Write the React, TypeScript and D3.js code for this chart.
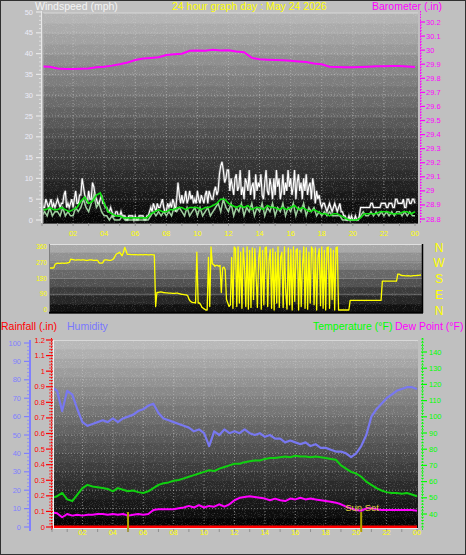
import React from "react";
import * as d3 from "d3";

const FONT = "'Liberation Sans', Arial, sans-serif";

// ---------- labels / ticks ----------
const hourTickValues = [2, 4, 6, 8, 10, 12, 14, 16, 18, 20, 22, 24];
const hourTickLabels = ["02", "04", "06", "08", "10", "12", "14", "16", "18", "20", "22", "00"];
const windTicks = [0, 5, 10, 15, 20, 25, 30, 35, 40, 45, 50];
const baroTicks = [28.8, 28.9, 29.0, 29.1, 29.2, 29.3, 29.4, 29.5, 29.6, 29.7, 29.8, 29.9, 30.0, 30.1, 30.2];
const baroLabels = ["28.8", "28.9", "29", "29.1", "29.2", "29.3", "29.4", "29.5", "29.6", "29.7", "29.8", "29.9", "30", "30.1", "30.2"];
const dirTicks = [0, 90, 180, 270, 360];
const compass = ["N", "E", "S", "W", "N"];
const humTicks = [0, 10, 20, 30, 40, 50, 60, 70, 80, 90, 100];
const rainTicks = [0, 0.1, 0.2, 0.3, 0.4, 0.5, 0.6, 0.7, 0.8, 0.9, 1.0, 1.1, 1.2];
const rainLabels = ["0", "0.1", "0.2", "0.3", "0.4", "0.5", "0.6", "0.7", "0.8", "0.9", "1", "1.1", "1.2"];
const tempTicks = [40, 50, 60, 70, 80, 90, 100, 110, 120, 130, 140];
const sunEvents = [5.0, 20.33];

// ---------- series ----------
// barometer, every 30 min
const barometer = [
  29.885, 29.882, 29.87, 29.866, 29.866, 29.868, 29.87, 29.878, 29.882, 29.89,
  29.9, 29.912, 29.93, 29.94, 29.945, 29.95, 29.965, 29.97, 29.975, 29.995,
  29.998, 29.995, 30.003, 29.998, 30.0, 29.99, 29.985, 29.945, 29.935, 29.932,
  29.93, 29.928, 29.925, 29.92, 29.915, 29.905, 29.9, 29.882, 29.88, 29.878,
  29.878, 29.88, 29.882, 29.885, 29.886, 29.888, 29.887, 29.884, 29.88,
];
// wind gust, every 5 min
const windGust = [
  4, 3, 3, 5, 4, 3, 4, 5, 3, 4, 3, 4,
  5, 4, 3, 4, 4, 6, 7, 3, 4, 3, 4, 5,
  3, 5, 7, 4, 4, 6, 6, 10, 8, 6, 5, 4,
  7, 5, 5, 9, 8, 6, 5, 4, 4, 5, 6, 4,
  4, 3, 3, 2, 2, 3, 2, 1, 1, 2, 2, 1,
  1, 2, 1, 1, 1, 0, 0, 1, 1, 1, 1, 0,
  1, 0, 0, 1, 1, 1, 1, 0, 0, 1, 1, 2,
  3, 2, 4, 3, 2, 4, 3, 3, 4, 5, 3, 2,
  2, 4, 3, 4, 3, 5, 4, 2, 5, 9, 6, 4,
  6, 4, 5, 7, 4, 5, 7, 5, 6, 4, 5, 4,
  7, 5, 4, 6, 5, 4, 6, 7, 4, 7, 6, 5,
  5, 7, 8, 6, 7, 11, 13, 14, 12, 9, 10, 12,
  12, 7, 10, 8, 6, 10, 11, 7, 8, 12, 6, 8,
  5, 10, 9, 7, 12, 6, 8, 9, 5, 11, 7, 9,
  8, 11, 6, 5, 9, 12, 7, 6, 10, 8, 5, 10,
  6, 12, 8, 10, 5, 7, 11, 6, 9, 7, 12, 8,
  10, 6, 8, 12, 5, 9, 11, 7, 9, 5, 10, 7,
  11, 6, 8, 9, 5, 10, 8, 4, 7, 5, 6, 4,
  3, 4, 4, 3, 2, 3, 4, 3, 2, 3, 4, 3,
  2, 3, 4, 2, 2, 1, 1, 0, 0, 1, 0, 1,
  0, 0, 1, 0, 0, 1, 3, 3, 3, 3, 3, 3,
  3, 3, 4, 4, 3, 3, 3, 3, 3, 3, 4, 4,
  4, 4, 3, 3, 4, 4, 4, 3, 3, 5, 5, 4,
  4, 4, 4, 5, 3, 3, 5, 5, 4, 4, 5, 5,
  4,
];
// wind speed (pale), every 10 min
const windSpeed = [
  1, 2, 1, 3, 1, 2,
  2, 1, 3, 1, 2, 1,
  1, 3, 2, 3, 5, 3,
  2, 4, 6, 3, 4, 2,
  1, 1, 0, 1, 0, 0,
  0, 1, 0, 0, 0, 0,
  0, 0, 0, 0, 0, 0,
  1, 2, 1, 2, 1, 2,
  1, 2, 1, 3, 2, 3,
  2, 1, 3, 1, 2, 3,
  1, 3, 1, 2, 3, 1,
  2, 3, 4, 2, 5, 3,
  2, 4, 1, 3, 2, 4,
  1, 3, 2, 4, 1, 3,
  2, 4, 1, 3, 2, 4,
  1, 3, 2, 4, 1, 3,
  2, 4, 1, 3, 2, 4,
  1, 3, 2, 3, 1, 2,
  1, 2, 1, 2, 1, 1,
  1, 1, 0, 0, 0, 0,
  0, 0, 0, 1, 2, 1,
  1, 2, 1, 2, 1, 2,
  1, 2, 1, 2, 1, 2,
  2, 1, 2, 1, 2, 1,
  1,
];
// wind average, every 15 min
const windAvg = [
  2.5, 2.5, 3, 2.5,
  2.5, 3, 2.5, 2,
  2.5, 3, 4.5, 5.5,
  4, 4.5, 6, 6.5,
  4, 2, 1.5, 1,
  1, 0.5, 0.5, 0.5,
  0.5, 0.5, 0.5, 0.5,
  1.5, 2, 2.5, 2,
  2, 2.5, 2.5, 3,
  3, 2.5, 3, 3,
  3, 2.5, 3, 3,
  3.5, 4, 5, 5,
  4, 3.5, 3, 3.5,
  3, 3.5, 2.5, 3,
  3, 2.5, 3.5, 3,
  3, 2.5, 3, 2.5,
  3, 3.5, 2.5, 3,
  2.5, 2, 2.5, 2,
  1.5, 1.5, 1, 1.5,
  1.5, 1, 0.5, 0,
  0, 0, 0.5, 1.5,
  1.5, 1.5, 1.5, 2,
  2, 2, 1.5, 1.5,
  1.5, 2, 2, 1.5,
  2,
];
// wind direction, every 5 min
const windDir = [
  240, 240, 240, 241, 262, 265, 268, 267, 266, 268, 268, 267,
  268, 268, 270, 272, 290, 289, 288, 286, 285, 286, 287, 286,
  285, 286, 286, 285, 284, 283, 285, 286, 287, 285, 283, 284,
  285, 284, 270, 268, 268, 270, 285, 286, 286, 285, 283, 284,
  286, 290, 300, 315, 322, 325, 330, 320, 310, 330, 358, 340,
  318, 318, 318, 317, 316, 316, 316, 316, 315, 315, 316, 316,
  315, 316, 316, 316, 315, 315, 316, 316, 315, 315, 20, 100,
  100, 102, 103, 102, 100, 99, 98, 98, 97, 97, 96, 95,
  95, 95, 96, 96, 94, 92, 90, 89, 88, 87, 86, 80,
  60, 50, 45, 42, 42, 40, 330, 40, 40, 30, 15, 10,
  5, 0, 0, 300, 20, 360, 265, 260, 250, 255, 255, 250,
  255, 100, 240, 245, 230, 60, 40, 20, 30, 300, 10, 360,
  350, 20, 360, 40, 330, 10, 355, 250, 20, 360, 5, 340,
  15, 355, 60, 350, 200, 15, 300, 360, 5, 340, 30, 355,
  360, 20, 280, 345, 10, 350, 0, 330, 40, 360, 15, 300,
  330, 15, 360, 100, 5, 355, 30, 345, 0, 360, 50, 340,
  350, 0, 340, 20, 260, 360, 10, 355, 5, 330, 40, 360,
  345, 30, 355, 0, 300, 350, 25, 360, 10, 340, 0, 355,
  360, 10, 350, 60, 340, 0, 355, 360, 0, 0, 0, 0,
  0, 0, 0, 0, 0, 55, 55, 55, 55, 55, 55, 55,
  55, 55, 55, 55, 55, 55, 55, 55, 55, 55, 55, 55,
  55, 55, 55, 55, 55, 55, 165, 165, 165, 165, 165, 165,
  165, 165, 165, 165, 165, 165, 205, 205, 200, 198, 196, 196,
  195, 195, 196, 195, 194, 195, 196, 197, 197, 198, 198, 199,
  200,
];
// humidity, every 20 min
const humidity = [
  76, 74, 63, 74, 72, 64, 57, 55, 56, 57, 58, 57, 59, 57, 59, 60, 61, 63,
  64, 66, 67, 62, 59, 58, 57, 56, 55, 54, 52, 53, 51, 44, 52, 50, 53, 51,
  52, 51, 53, 51, 50, 51, 49, 50, 48, 48, 46, 47, 46, 45, 46, 44, 45, 43,
  43, 42, 41, 41, 40, 38, 40, 44, 50, 60, 64, 67, 70, 72, 74, 75, 76, 76, 75,
];
// temperature, every 20 min
const temperature = [
  50, 51, 53, 49, 48, 52, 56, 58, 57, 56.5, 56, 55.5, 54, 56, 55, 54, 54.5, 53.5,
  53, 54, 56, 58, 59, 59.5, 60.5, 61, 62, 63, 64, 65, 66, 67, 66.5, 68, 69, 70,
  71, 71, 72, 72.5, 73, 73, 74, 74.5, 74.5, 75, 75.5, 75, 76, 75.5, 75.5, 75, 75.5, 75,
  74.5, 74, 73.5, 70, 68, 66, 65, 63, 60, 58, 56, 54.5, 53.5, 53, 53, 52.5, 53, 52, 51,
];
// dew point, every 20 min
const dewPoint = [
  41, 40.5, 38, 40, 39, 39.5, 39, 39.5, 39.5, 40, 40, 39.5, 40, 39.5, 40, 39, 39.5, 40,
  39.5, 40, 42.5, 43, 43, 43, 43, 43.5, 44, 45, 44, 45.5, 44, 45, 44.5, 46, 44.5, 46,
  48.5, 50, 50.5, 51, 50.5, 50, 49.5, 48.5, 49.5, 48.5, 48, 49.5, 49, 50, 49, 49.5, 49, 48.5,
  48, 47.5, 47, 46, 44.5, 43.5, 42.5, 42, 43.5, 43.5, 43, 42.5, 42.5, 42.5, 42.5, 42.5, 42.5, 42.5, 42,
];
// rainfall, hourly
const rainfall = [0, 0, 0, 0, 0, 0, 0, 0, 0, 0, 0, 0, 0, 0, 0, 0, 0, 0, 0, 0, 0, 0, 0, 0, 0];

function Bands(p: { x0: number; x1: number; y0: number; y1: number; n: number; top: string; bottom: string }) {
  const c = d3.interpolateRgb(p.top, p.bottom);
  const h = (p.y1 - p.y0) / p.n;
  return (
    <g>
      {d3.range(p.n).map((i) => (
        <rect key={i} x={p.x0} y={p.y0 + h * i} width={p.x1 - p.x0} height={h + 0.6} fill={c(i / (p.n - 1))} />
      ))}
    </g>
  );
}

export default function App() {
  // scales
  const xTop = d3.scaleLinear().domain([0, 24]).range([42, 415]);
  const yWind = d3.scaleLinear().domain([0, 50]).range([220, 12]);
  const yBaro = d3.scaleLinear().domain([28.8, 30.2]).range([219, 22]);
  const xMid = d3.scaleLinear().domain([0, 24]).range([50, 421]);
  const yDir = d3.scaleLinear().domain([0, 360]).range([310, 247]);
  const xBot = d3.scaleLinear().domain([0, 24]).range([52, 417]);
  const yHum = d3.scaleLinear().domain([0, 100]).range([527, 343]);
  const yRain = d3.scaleLinear().domain([0, 1.2]).range([527, 340]);
  const yTemp = d3.scaleLinear().domain([40, 140]).range([514, 352]);

  const mk = (x: d3.ScaleLinear<number, number>, y: d3.ScaleLinear<number, number>, step: number) =>
    d3.line<number>().x((_, i) => x(i * step)).y((d) => y(d));

  const top = { x0: 43, x1: 418, y0: 13, y1: 223 };
  const mid = { x0: 49, x1: 423, y0: 244, y1: 313 };
  const bot = { x0: 53, x1: 418, y0: 340, y1: 528 };

  const hours = d3.range(0, 25);
  const tx = { fontFamily: FONT };

  return (
    <svg width={466} height={555} style={{ position: "absolute", left: 0, top: 0 }} xmlns="http://www.w3.org/2000/svg">
      <defs>
        <filter id="nz" x="0" y="0" width="100%" height="100%">
          <feTurbulence type="fractalNoise" baseFrequency="1.1" numOctaves="1" seed="4" />
          <feColorMatrix type="matrix" values="0 0 0 0 0.85  0 0 0 0 0.85  0 0 0 0 0.85  0 0 0 2.2 -1.15" />
        </filter>
        <clipPath id="cTop"><rect x={top.x0} y={top.y0} width={top.x1 - top.x0} height={top.y1 - top.y0} /></clipPath>
        <clipPath id="cMid"><rect x={mid.x0} y={mid.y0} width={mid.x1 - mid.x0} height={mid.y1 - mid.y0} /></clipPath>
        <clipPath id="cBot"><rect x={bot.x0} y={bot.y0} width={bot.x1 - bot.x0} height={bot.y1 - bot.y0} /></clipPath>
      </defs>
      <rect x={0.5} y={0.5} width={465} height={554} fill="#c0c0c0" stroke="#303030" />

      {/* ================= TOP PANEL ================= */}
      <Bands x0={top.x0} x1={top.x1} y0={top.y0} y1={top.y1} n={20} top="#b4b4b4" bottom="#060606" />
      <rect x={top.x0} y={top.y0} width={top.x1 - top.x0} height={top.y1 - top.y0} filter="url(#nz)" opacity={0.35} />
      {hourTickValues.slice(0, 11).map((h) => (
        <line key={"tv" + h} x1={xTop(h)} x2={xTop(h)} y1={top.y0} y2={top.y1} stroke="#c8c8c8" strokeOpacity={0.55} strokeDasharray="1,2" />
      ))}
      {windTicks.slice(1, 10).map((w) => (
        <line key={"th" + w} x1={top.x0} x2={top.x1} y1={yWind(w)} y2={yWind(w)} stroke="#c8c8c8" strokeOpacity={0.5} strokeDasharray="1,2" />
      ))}
      <g clipPath="url(#cTop)">
        <path d={mk(xTop, yBaro, 0.5)(barometer) || ""} fill="none" stroke="#ff00ff" strokeWidth={2} />
        <path d={mk(xTop, yWind, 1 / 12)(windGust) || ""} fill="none" stroke="#9a9a9a" strokeWidth={2.5} strokeOpacity={0.6} />
        <path d={mk(xTop, yWind, 1 / 12)(windGust) || ""} fill="none" stroke="#ffffff" strokeWidth={1.1} />
        <path d={mk(xTop, yWind, 1 / 6)(windSpeed) || ""} fill="none" stroke="#b8f0b8" strokeWidth={1.5} strokeOpacity={0.85} />
        <path d={mk(xTop, yWind, 0.25)(windAvg) || ""} fill="none" stroke="#10e010" strokeWidth={1.6} />
      </g>
      <line x1={top.x0} x2={top.x1} y1={top.y0} y2={top.y0} stroke="#d8d8d8" />
      <line x1={top.x0} x2={top.x0} y1={top.y0} y2={top.y1} stroke="#b0b0b0" />
      {/* left wind axis */}
      <line x1={41.5} x2={41.5} y1={11} y2={223} stroke="#e8e8e8" />
      {d3.range(0, 51).map((w) => (
        <line key={"wt" + w} x1={w % 5 === 0 ? 36 : 39} x2={41} y1={yWind(w)} y2={yWind(w)} stroke="#e8e8e8" strokeWidth={w % 5 === 0 ? 1.2 : 0.8} />
      ))}
      {windTicks.map((w) => (
        <text key={"wl" + w} x={33} y={yWind(w) + 2.5} textAnchor="end" fontSize={7.5} fill="#ececf8" style={tx}>{w}</text>
      ))}
      {/* right barometer axis */}
      <line x1={420.5} x2={420.5} y1={11} y2={223} stroke="#ff00ff" strokeDasharray="1.5,1.3" />
      {d3.range(0, 71).map((i) => {
        const v = 28.8 + i * 0.02;
        const major = i % 5 === 0;
        return <line key={"bt" + i} x1={420} x2={major ? 425 : 422} y1={yBaro(v)} y2={yBaro(v)} stroke="#ff00ff" strokeWidth={major ? 1.2 : 0.7} />;
      })}
      {baroTicks.map((b, i) => (
        <text key={"bl" + i} x={426} y={yBaro(b) + 2.5} fontSize={7.5} fill="#ff00ff" style={tx}>{baroLabels[i]}</text>
      ))}
      {/* x axis top */}
      {hours.map((h) => (
        <line key={"xt" + h} x1={xTop(h)} x2={xTop(h)} y1={223} y2={226} stroke="#909090" />
      ))}
      {hourTickValues.map((h, i) => (
        <text key={"xl" + h} x={xTop(h)} y={236} textAnchor="middle" fontSize={7.5} fill="#ffff00" style={tx}>{hourTickLabels[i]}</text>
      ))}
      {/* titles */}
      <text x={35} y={10} fontSize={10.5} fill="#f4f4f4" style={tx}>Windspeed (mph)</text>
      <text x={172} y={10} fontSize={10.5} fill="#ffff00" style={tx}>24 hour graph day : May 24 2026</text>
      <text x={372} y={10} fontSize={10.5} fill="#ff00ff" style={tx}>Barometer (.in)</text>

      {/* ================= MIDDLE PANEL ================= */}
      <Bands x0={mid.x0} x1={mid.x1} y0={mid.y0} y1={mid.y1} n={8} top="#a8a8a8" bottom="#101010" />
      <rect x={mid.x0} y={mid.y0} width={mid.x1 - mid.x0} height={mid.y1 - mid.y0} filter="url(#nz)" opacity={0.3} />
      {dirTicks.slice(1, 4).map((d) => (
        <line key={"dg" + d} x1={mid.x0} x2={mid.x1} y1={yDir(d)} y2={yDir(d)} stroke="#c0c0c0" strokeOpacity={0.35} />
      ))}
      <g clipPath="url(#cMid)">
        <path d={mk(xMid, yDir, 1 / 12)(windDir) || ""} fill="none" stroke="#ffff00" strokeWidth={1.3} strokeLinejoin="round" />
      </g>
      <line x1={mid.x0} x2={mid.x1} y1={mid.y0 + 0.5} y2={mid.y0 + 0.5} stroke="#e0e0e0" />
      <line x1={mid.x0 + 0.5} x2={mid.x0 + 0.5} y1={mid.y0} y2={mid.y1} stroke="#808080" />
      <line x1={mid.x0} x2={mid.x1} y1={mid.y1 - 0.5} y2={mid.y1 - 0.5} stroke="#000" strokeWidth={1.5} />
      <line x1={mid.x1 - 0.5} x2={mid.x1 - 0.5} y1={mid.y0} y2={mid.y1} stroke="#000" strokeWidth={1.5} />
      {dirTicks.map((d) => (
        <text key={"dl" + d} x={47} y={yDir(d) + 2.2} textAnchor="end" fontSize={6.5} fill="#ffff00" style={tx}>{d}</text>
      ))}
      {compass.map((c, i) => (
        <text key={"cp" + i} x={439} y={yDir(dirTicks[i]) + 4.5} textAnchor="middle" fontSize={12} fill="#ffff00" style={tx}>{c}</text>
      ))}

      {/* ================= BOTTOM PANEL ================= */}
      <text x={1} y={330} fontSize={10.5} fill="#ff0000" style={tx}>Rainfall (.in)</text>
      <text x={67} y={330} fontSize={10.5} fill="#7878ff" style={tx}>Humidity</text>
      <text x={313} y={330} fontSize={10.5} fill="#00ff00" style={tx}>Temperature (°F)</text>
      <text x={395} y={330} fontSize={10.5} fill="#ff00ff" style={tx}>Dew Point (°F)</text>

      <Bands x0={bot.x0} x1={bot.x1} y0={bot.y0} y1={bot.y1} n={20} top="#b8b8b8" bottom="#040404" />
      <rect x={bot.x0} y={bot.y0} width={bot.x1 - bot.x0} height={bot.y1 - bot.y0} filter="url(#nz)" opacity={0.35} />
      {hourTickValues.slice(0, 11).map((h) => (
        <line key={"bv" + h} x1={xBot(h)} x2={xBot(h)} y1={bot.y0} y2={bot.y1} stroke="#c8c8c8" strokeOpacity={0.55} strokeDasharray="1,2" />
      ))}
      {humTicks.slice(1, 10).map((v) => (
        <line key={"bh" + v} x1={bot.x0} x2={bot.x1} y1={yHum(v)} y2={yHum(v)} stroke="#c8c8c8" strokeOpacity={0.5} strokeDasharray="1,2" />
      ))}
      <g clipPath="url(#cBot)">
        <path d={mk(xBot, yHum, 1 / 3)(humidity) || ""} fill="none" stroke="#7878f0" strokeWidth={2.2} strokeLinejoin="round" />
        <path d={mk(xBot, yTemp, 1 / 3)(temperature) || ""} fill="none" stroke="#10d010" strokeWidth={2} strokeLinejoin="round" />
        <path d={mk(xBot, yTemp, 1 / 3)(dewPoint) || ""} fill="none" stroke="#ff00ff" strokeWidth={2} strokeLinejoin="round" />
      </g>
      <path d={mk(xBot, yRain, 1)(rainfall) || ""} fill="none" stroke="#ff0000" strokeWidth={3} />
      <line x1={bot.x0} x2={bot.x1} y1={bot.y0 + 0.5} y2={bot.y0 + 0.5} stroke="#d8d8d8" />
      <line x1={bot.x0 + 0.5} x2={bot.x0 + 0.5} y1={bot.y0} y2={bot.y1 + 1} stroke="#f0f0f0" />
      <line x1={bot.x0} x2={bot.x1} y1={bot.y1 + 0.5} y2={bot.y1 + 0.5} stroke="#e8e8e8" />

      {/* sunrise / sunset */}
      {sunEvents.map((h, i) => (
        <line key={"sun" + i} x1={xBot(h)} x2={xBot(h)} y1={512} y2={532} stroke="#b0a000" strokeWidth={2} />
      ))}
      <text x={xBot(sunEvents[1]) - 16} y={511} fontSize={9.5} fill="#e0d040" style={tx}>Sun Set</text>

      {/* humidity axis */}
      <line x1={30} x2={30} y1={340} y2={531} stroke="#8080ff" strokeWidth={2} />
      {d3.range(0, 101, 2).map((v) => (
        <line key={"ht" + v} x1={v % 10 === 0 ? 24 : 27} x2={29} y1={yHum(v)} y2={yHum(v)} stroke="#8080ff" strokeWidth={v % 10 === 0 ? 1.2 : 0.7} />
      ))}
      {humTicks.map((v) => (
        <text key={"hl" + v} x={21} y={yHum(v) + 2.5} textAnchor="end" fontSize={7.5} fill="#8080ff" style={tx}>{v}</text>
      ))}
      {/* rain axis */}
      <line x1={51.5} x2={51.5} y1={338} y2={530} stroke="#ff0000" strokeDasharray="1.5,1.3" />
      {d3.range(0, 61).map((i) => {
        const v = i * 0.02;
        const major = i % 5 === 0;
        return <line key={"rt" + i} x1={major ? 46 : 49} x2={53} y1={yRain(v)} y2={yRain(v)} stroke="#ff0000" strokeWidth={major ? 1.2 : 0.7} />;
      })}
      {rainTicks.map((v, i) => (
        <text key={"rl" + i} x={45} y={yRain(v) + 2.5} textAnchor="end" fontSize={7.5} fill="#ff0000" style={tx}>{rainLabels[i]}</text>
      ))}
      {/* temperature axis */}
      <line x1={422.5} x2={422.5} y1={338} y2={530} stroke="#00ff00" strokeDasharray="1.5,1.3" />
      {d3.range(32, 150, 2).map((v) => (
        <line key={"tt" + v} x1={421} x2={v % 10 === 0 ? 427 : 424} y1={yTemp(v)} y2={yTemp(v)} stroke="#00ff00" strokeWidth={v % 10 === 0 ? 1.2 : 0.7} />
      ))}
      {tempTicks.map((v) => (
        <text key={"tl" + v} x={429} y={yTemp(v) + 2.5} fontSize={7.5} fill="#00ff00" style={tx}>{v}</text>
      ))}
      {/* x axis bottom */}
      {hours.map((h) => (
        <line key={"bxt" + h} x1={xBot(h)} x2={xBot(h)} y1={529} y2={532} stroke="#909090" />
      ))}
      {hourTickValues.map((h, i) => (
        <text key={"bxl" + h} x={xBot(h)} y={535} textAnchor="middle" fontSize={7.5} fill="#ffff00" style={tx}>{hourTickLabels[i]}</text>
      ))}
    </svg>
  );
}
